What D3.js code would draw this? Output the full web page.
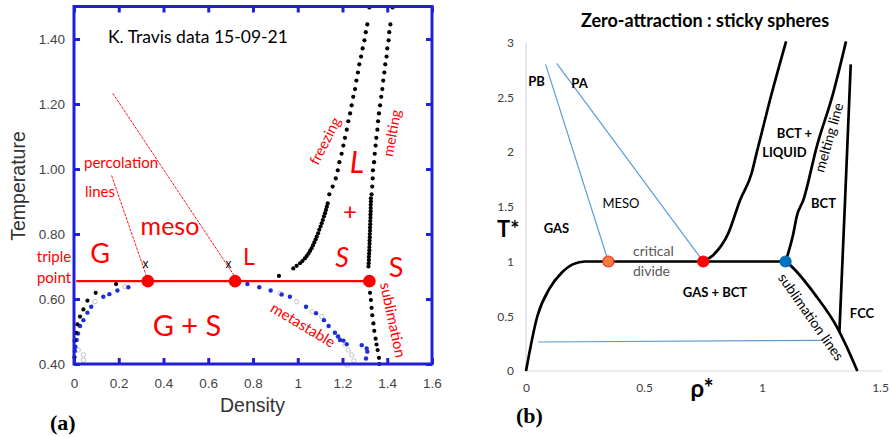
<!DOCTYPE html>
<html><head><meta charset="utf-8">
<script src="https://cdn.jsdelivr.net/npm/d3@7"></script>
<style>body{margin:0;background:#fff}</style></head>
<body>
<svg id="c" width="892" height="437"></svg>
<script>
// ---------- Panel (a) data : [density, temperature] ----------
const xTicksA = [0,0.2,0.4,0.6,0.8,1,1.2,1.4,1.6];
const yTicksA = [0.4,0.6,0.8,1.0,1.2,1.4];
const triplePoints = [[0.33,0.655],[0.72,0.655],[1.32,0.655]];
const tripleLine = [[0.01,0.655],[1.32,0.655]];
const crossMarks = [[0.32,0.708],[0.69,0.708]];
const percolationA = [[0.168,0.98],[0.325,0.668]];
const percolationB = [[0.173,1.233],[0.72,0.668]];
const freezeUpper = [[1.320,1.497],[1.311,1.445],[1.304,1.421],[1.298,1.396],[1.290,1.371],[1.283,1.346],[1.275,1.322],[1.269,1.297],[1.262,1.272],[1.256,1.246],[1.248,1.222],[1.241,1.196],[1.234,1.171],[1.226,1.147],[1.219,1.121],[1.211,1.096],[1.204,1.072],[1.196,1.047],[1.186,1.021],[1.179,0.996],[1.170,0.971],[1.156,0.946],[1.141,0.922]];
const freezeLower = [[1.134,0.894],[1.130,0.884],[1.126,0.874],[1.122,0.864],[1.117,0.854],[1.112,0.843],[1.107,0.833],[1.102,0.823],[1.096,0.813],[1.091,0.802],[1.085,0.792],[1.080,0.783],[1.074,0.774],[1.068,0.765],[1.062,0.756],[1.055,0.748],[1.048,0.740],[1.040,0.732],[1.032,0.725],[1.021,0.717],[1.010,0.710],[0.995,0.702],[0.980,0.694],[0.916,0.671]];
const meltUpper = [[1.424,1.497],[1.414,1.445],[1.409,1.421],[1.406,1.396],[1.400,1.371],[1.397,1.346],[1.391,1.322],[1.387,1.297],[1.382,1.272],[1.378,1.246],[1.373,1.222],[1.368,1.196],[1.363,1.171],[1.359,1.147],[1.356,1.121],[1.351,1.096],[1.348,1.072],[1.344,1.047],[1.341,1.021],[1.336,0.996],[1.335,0.971],[1.333,0.946],[1.330,0.922]];
const meltLower = [[1.327,0.910],[1.327,0.900],[1.326,0.890],[1.326,0.880],[1.326,0.870],[1.325,0.860],[1.325,0.850],[1.324,0.840],[1.324,0.830],[1.323,0.820],[1.323,0.810],[1.322,0.800],[1.322,0.790],[1.321,0.780],[1.321,0.770],[1.320,0.760],[1.320,0.750],[1.319,0.740],[1.318,0.730],[1.318,0.720],[1.317,0.710],[1.316,0.700]];
const sublimationDots = [[1.323,0.619],[1.327,0.597],[1.330,0.573],[1.333,0.550],[1.338,0.525],[1.342,0.502],[1.348,0.478],[1.352,0.460],[1.357,0.443],[1.363,0.419],[1.365,0.400]];
const gasBlack = [[0.188,0.646],[0.097,0.619],[0.060,0.595],[0.042,0.568],[0.027,0.546],[0.015,0.522],[0.009,0.496],[0.003,0.472],[0.002,0.421]];
const gasBlue = [[0.243,0.636],[0.194,0.626],[0.158,0.615],[0.131,0.607],[0.077,0.576],[0.060,0.558],[0.042,0.535],[0.027,0.517],[0.018,0.494],[0.012,0.474],[0.006,0.453],[0.004,0.440]];
const liquidBlue = [[0.775,0.646],[0.828,0.636],[0.879,0.626],[0.928,0.614],[0.965,0.607],[1.037,0.576],[1.082,0.556],[1.117,0.535],[1.138,0.517],[1.166,0.496],[1.180,0.485],[1.189,0.474],[1.204,0.472],[1.219,0.461],[1.286,0.458],[1.308,0.448],[1.311,0.438],[1.305,0.417]];
const hollowGray = [[0.228,0.638],[0.094,0.592],[0.019,0.443],[0.042,0.428],[0.042,0.412],[0.921,0.617],[0.995,0.592],[1.064,0.561],[1.107,0.546],[1.181,0.484],[1.211,0.458],[1.226,0.443],[1.241,0.428],[1.251,0.410],[1.222,0.397]];

// ---------- Panel (b) data : [rho*, T*] ----------
const xTicksB = [0,0.5,1,1.5];
const yTicksB = [0,0.5,1,1.5,2,2.5,3];
const gasCurve = [[0,0],[0.048,0.5],[0.10,0.754],[0.151,0.897],[0.20,0.976],[0.25,1.0],[1.10,1.0]];
const freezeCurve = [[0.75,1.0],[0.794,1.06],[0.857,1.257],[0.907,1.56],[0.956,1.806],[0.977,1.99],[1.034,2.477],[1.102,3.01]];
const meltCurve = [[1.10,1.0],[1.133,1.257],[1.147,1.41],[1.175,1.56],[1.232,2.05],[1.302,2.54],[1.356,3.01]];
const fccCurve = [[1.376,2.80],[1.352,1.56],[1.328,0.357]];
const sublimationCurve = [[1.10,1.0],[1.119,0.967],[1.232,0.677],[1.317,0.403],[1.359,0.22],[1.404,0.0]];
const percPB = [[0.083,2.80],[0.349,1.0]];
const percPA = [[0.130,2.81],[0.751,1.0]];
const lowLine = [[0.052,0.265],[1.26,0.28]];
const criticalPoints = [[0.349,1.0,"#ef7f3a","#ff2a2a"],[0.751,1.0,"#ff0000","#ff0000"],[1.10,1.0,"#0070c0","#0070c0"]];

const svg = d3.select("#c");
svg.append("rect").attr("width",892).attr("height",437).attr("fill","#fff");
const BLUE = "#2020d8", RED = "#ff0000";

// ===== Panel (a) =====
const xA = d3.scaleLinear().domain([0,1.6]).range([74,432]);
const yA = d3.scaleLinear().domain([0.4,1.5]).range([364,6.5]);
const gA = svg.append("g");

function styleAxis(g, labels){
  g.select(".domain").remove();
  g.selectAll(".tick line").attr("stroke",BLUE).attr("stroke-width",3);
  g.selectAll(".tick text").attr("fill","#444").style("font-family","Liberation Sans, Arial, sans-serif").style("font-size","13.5px");
  if(!labels) g.selectAll(".tick text").remove();
}
gA.append("g").attr("transform","translate(0,364)")
  .call(d3.axisBottom(xA).tickValues(xTicksA).tickFormat(d=>String(d)).tickSizeInner(-6).tickSizeOuter(0).tickPadding(14))
  .call(g=>styleAxis(g,true));
gA.append("g").attr("transform","translate(0,6.5)")
  .call(d3.axisTop(xA).tickValues(xTicksA).tickSizeInner(-6).tickSizeOuter(0))
  .call(g=>styleAxis(g,false));
gA.append("g").attr("transform","translate(74,0)")
  .call(d3.axisLeft(yA).tickValues(yTicksA).tickFormat(d3.format(".2f")).tickSizeInner(-6).tickSizeOuter(0).tickPadding(9))
  .call(g=>styleAxis(g,true));
gA.append("g").attr("transform","translate(432,0)")
  .call(d3.axisRight(yA).tickValues(yTicksA).tickSizeInner(-6).tickSizeOuter(0))
  .call(g=>styleAxis(g,false));

const lineA = d3.line().x(d=>xA(d[0])).y(d=>yA(d[1]));
[percolationA, percolationB].forEach(p=>{
  gA.append("path").attr("d",lineA(p)).attr("stroke",RED).attr("stroke-width",0.9)
    .attr("stroke-dasharray","3,1").attr("fill","none");
});
function dots(data, fill, stroke, r){
  gA.append("g").selectAll("circle").data(data).join("circle")
    .attr("cx",d=>xA(d[0])).attr("cy",d=>yA(d[1])).attr("r",r)
    .attr("fill",fill).attr("stroke",stroke).attr("stroke-width",1);
}
dots(hollowGray,"none","#c4c4c4",2.2);
dots(gasBlue,"#1c2ed8","none",2.2);
dots(liquidBlue,"#1c2ed8","none",2.2);
dots(gasBlack,"#000","none",2.1);
dots(freezeUpper,"#000","none",2.1);
dots(freezeLower,"#000","none",2.1);
dots(meltUpper,"#000","none",2.1);
dots(meltLower,"#000","none",2.1);
dots(sublimationDots,"#000","none",2.1);
gA.append("path").attr("d",lineA(tripleLine)).attr("stroke",RED).attr("stroke-width",2.2).attr("fill","none");
gA.append("g").selectAll("circle").data(triplePoints).join("circle")
  .attr("cx",d=>xA(d[0])).attr("cy",d=>yA(d[1])).attr("r",6.3).attr("fill",RED);
gA.append("g").selectAll("text").data(crossMarks).join("text")
  .attr("x",d=>xA(d[0])).attr("y",d=>yA(d[1])).attr("text-anchor","middle").attr("dy","0.3em")
  .style("font-family","Liberation Sans, Arial, sans-serif").style("font-size","12px").text("x");
gA.append("rect").attr("x",74).attr("y",6.5).attr("width",358).attr("height",357.5)
  .attr("fill","none").attr("stroke",BLUE).attr("stroke-width",3);

const FONT = "Lato, 'Open Sans', sans-serif";
function txt(g, x, y, s, size, color, opts={}){
  const t = g.append("text").attr("x",x).attr("y",y).text(s)
    .style("font-family",opts.family||FONT).style("font-size",size+"px").attr("fill",color)
    .attr("text-anchor",opts.anchor||"start");
  if(opts.weight) t.style("font-weight",opts.weight);
  if(opts.italic) t.style("font-style","italic");
  if(opts.rotate!==undefined) t.attr("transform",`rotate(${opts.rotate},${x},${y})`);
  if(opts.dy) t.attr("dy",opts.dy);
  return t;
}
txt(gA,108,43,"K. Travis data 15-09-21",17.5,"#000");
txt(gA,18,186,"Temperature",19.5,"#333",{family:"Liberation Sans, Arial, sans-serif",anchor:"middle",rotate:-90,dy:"0.35em"});
txt(gA,252.5,412,"Density",19.5,"#333",{family:"Liberation Sans, Arial, sans-serif",anchor:"middle"});
txt(gA,50,430,"(a)",22,"#000",{family:"Liberation Serif, 'Times New Roman', serif",weight:"bold"});
txt(gA,100,263,"G",27,RED,{anchor:"middle"});
txt(gA,249,265,"L",23,RED,{anchor:"middle"});
txt(gA,170,235,"meso",25,RED,{anchor:"middle"});
txt(gA,187,336,"G + S",29,RED,{anchor:"middle"});
txt(gA,54,262,"triple",15,RED,{anchor:"middle"});
txt(gA,54,283,"point",15,RED,{anchor:"middle"});
txt(gA,121,168,"percolation",15,RED,{anchor:"middle"});
txt(gA,85,197,"lines",15,RED);
txt(gA,325,141,"freezing",14.5,RED,{anchor:"middle",rotate:-63,dy:"0.35em"});
txt(gA,392,133,"melting",14.5,RED,{anchor:"middle",rotate:-80,dy:"0.35em"});
txt(gA,357,173,"L",30,RED,{anchor:"middle",italic:true});
txt(gA,350,220,"+",24,RED,{anchor:"middle"});
txt(gA,342,267,"S",27,RED,{anchor:"middle",italic:true});
txt(gA,396,277,"S",27,RED,{anchor:"middle"});
txt(gA,393,320,"sublimation",15,RED,{anchor:"middle",rotate:78,dy:"0.35em"});
txt(gA,303,325,"metastable",15,RED,{anchor:"middle",rotate:31,dy:"0.35em"});

// ===== Panel (b) =====
const xB = d3.scaleLinear().domain([0,1.5]).range([526,880]);
const yB = d3.scaleLinear().domain([0,3]).range([371,42.5]);
const gB = svg.append("g");
gB.append("line").attr("x1",526).attr("x2",882).attr("y1",yB(0)).attr("y2",yB(0)).attr("stroke","#d9d9d9").attr("stroke-width",1.2);
gB.append("line").attr("x1",xB(0)).attr("x2",xB(0)).attr("y1",yB(0)).attr("y2",yB(3)).attr("stroke","#d9d9d9").attr("stroke-width",1.2);
function styleB(g){
  g.select(".domain").remove();
  g.selectAll(".tick line").remove();
  g.selectAll(".tick text").attr("fill","#404040").style("font-family",FONT).style("font-size","12px");
}
gB.append("g").attr("transform",`translate(0,${yB(0)})`)
  .call(d3.axisBottom(xB).tickValues(xTicksB).tickFormat(d=>String(d)).tickSize(0).tickPadding(12.5)).call(styleB);
gB.append("g").attr("transform",`translate(${xB(0)},0)`)
  .call(d3.axisLeft(yB).tickValues(yTicksB).tickFormat(d=>String(d)).tickSize(0).tickPadding(12)).call(styleB);

const lineB = d3.line().x(d=>xB(d[0])).y(d=>yB(d[1]));
[percPB, percPA, lowLine].forEach(p=>{
  gB.append("path").attr("d",lineB(p)).attr("stroke","#5b9bd5").attr("stroke-width",1.2).attr("fill","none");
});
[[gasCurve,d3.curveMonotoneX],[freezeCurve,d3.curveMonotoneX],[meltCurve,d3.curveMonotoneX],[fccCurve,d3.curveLinear],[sublimationCurve,d3.curveMonotoneX]].forEach(([p,c])=>{
  gB.append("path").attr("d",lineB.curve(c)(p)).attr("stroke","#000").attr("stroke-width",2.7)
    .attr("fill","none").attr("stroke-linejoin","round");
});
gB.append("g").selectAll("circle").data(criticalPoints).join("circle")
  .attr("cx",d=>xB(d[0])).attr("cy",d=>yB(d[1])).attr("r",5.5)
  .attr("fill",d=>d[2]).attr("stroke",d=>d[3]).attr("stroke-width",1.2);

txt(gB,705,27,"Zero-attraction : sticky spheres",18,"#000",{anchor:"middle",weight:"bold"});
txt(gB,497,237,"T*",22,"#000",{weight:"bold"});
txt(gB,702,397,"ρ*",24,"#000",{anchor:"middle",weight:"bold"});
txt(gB,516,423,"(b)",22,"#000",{family:"Liberation Serif, 'Times New Roman', serif",weight:"bold"});
txt(gB,536.5,86,"PB",13,"#000",{anchor:"middle",weight:"bold"});
txt(gB,579.5,88,"PA",13,"#000",{anchor:"middle",weight:"bold"});
txt(gB,794.5,138,"BCT +",13,"#000",{anchor:"middle",weight:"bold"});
txt(gB,784.5,157,"LIQUID",13,"#000",{anchor:"middle",weight:"bold"});
txt(gB,829,137.5,"melting line",14,"#000",{anchor:"middle",rotate:-74,dy:"0.35em"});
txt(gB,823.5,208,"BCT",13,"#000",{anchor:"middle",weight:"bold"});
txt(gB,621,208,"MESO",13,"#000",{anchor:"middle"});
txt(gB,556.5,233,"GAS",13,"#000",{anchor:"middle",weight:"bold"});
txt(gB,633,256,"critical",14,"#595959");
txt(gB,633,276,"divide",14,"#595959");
txt(gB,715,297,"GAS + BCT",13,"#000",{anchor:"middle",weight:"bold"});
txt(gB,862,318,"FCC",13,"#000",{anchor:"middle",weight:"bold"});
txt(gB,811,317,"sublimation lines",14,"#000",{anchor:"middle",rotate:55,dy:"0.35em"});
</script>
</body></html>
